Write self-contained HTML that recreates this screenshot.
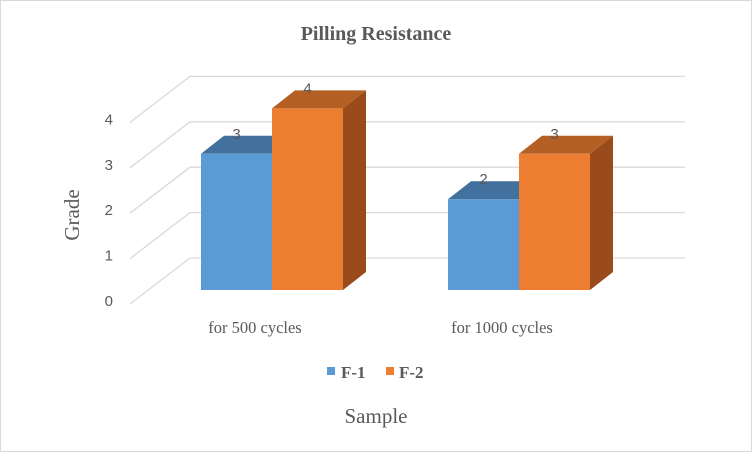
<!DOCTYPE html>
<html><head><meta charset="utf-8"><style>
body{margin:0;background:#fff}
svg{display:block}
text{fill:#595959}
</style></head><body>
<svg id="chart" width="752" height="452" viewBox="0 0 752 452" xmlns="http://www.w3.org/2000/svg">
<rect x="0.5" y="0.5" width="751" height="451" fill="#fff" stroke="#d9d9d9"/>
<text x="376" y="40" text-anchor="middle" font-family="Liberation Serif, serif" font-weight="bold" font-size="20">Pilling Resistance</text>
<g id="grid"></g>
<g id="bars"></g>
<g id="labels"></g>
<text transform="translate(79,215) rotate(-90)" text-anchor="middle" font-family="Liberation Serif, serif" font-size="21">Grade</text>
<text x="376" y="423" text-anchor="middle" font-family="Liberation Serif, serif" font-size="21">Sample</text>
<g>
<rect x="327" y="367" width="8" height="8" fill="#5b9bd5"/>
<text x="341" y="378" font-family="Liberation Serif, serif" font-weight="bold" font-size="17">F-1</text>
<rect x="386" y="367" width="8" height="8" fill="#ed7d31"/>
<text x="399" y="378" font-family="Liberation Serif, serif" font-weight="bold" font-size="17">F-2</text>
</g>
</svg>
<script>
const categories = ["for 500 cycles", "for 1000 cycles"];
const seriesNames = ["F-1", "F-2"];
const f1Values = [3, 2];
const f2Values = [4, 3];
const yTicks = [0, 1, 2, 3, 4];

const NS = "http://www.w3.org/2000/svg";
const unit = 45.4;
const frontZeroY = 304, frontX = 130, backDX = 60, backDY = -46, backRight = 685;
const barZeroY = 290, barDX = 23, barDY = -18;
const groupStart = [201, 448], barW = 71;
const colors = [["#5b9bd5", "#41719c", "#3d6d99"], ["#ed7d31", "#b45f23", "#9a4b1c"]];
function yFront(v){ return frontZeroY - v*unit; }
function yBar(v){ return barZeroY - v*unit; }
function mk(tag, attrs, parent){ const e=document.createElementNS(NS,tag); for(const k in attrs) e.setAttribute(k,attrs[k]); parent.appendChild(e); return e; }

const grid = document.getElementById("grid");
yTicks.forEach(t => {
  const y = yFront(t);
  const g = mk("g", {}, grid);
  
  
  mk("polyline", {points: `${frontX},${y} ${frontX+backDX},${y+backDY} ${backRight},${y+backDY}`, fill:"none", stroke:"#d9d9d9", "stroke-width":"1.3"}, g);
  const tx = mk("text", {x: 113, y: y+2, "text-anchor":"end", "font-family":"Liberation Sans, sans-serif", "font-size":"15"}, g);
  
  
  tx.textContent = t;
});

const bars = document.getElementById("bars"), labels = document.getElementById("labels");
const series = [f1Values, f2Values];
categories.forEach((c, i) => {
  series.forEach((vals, s) => {
    const v = vals[i], x = groupStart[i] + s*barW, top = yBar(v), bot = yBar(0);
    const g = mk("g", {}, bars);
    
    
    mk("polygon", {points:`${x+barW},${top} ${x+barW+barDX},${top+barDY} ${x+barW+barDX},${bot+barDY} ${x+barW},${bot}`, fill:colors[s][2]}, g);
    mk("polygon", {points:`${x},${top} ${x+barDX},${top+barDY} ${x+barW+barDX},${top+barDY} ${x+barW},${top}`, fill:colors[s][1]}, g);
    mk("rect", {x:x, y:top, width:barW, height:bot-top, fill:colors[s][0]}, g);
    const l = mk("text", {x: x+barW/2, y: top-15, "text-anchor":"middle", "font-family":"Liberation Sans, sans-serif", "font-size":"15"}, labels);
    
    
    l.textContent = v;
  });
  const ct = mk("text", {x: groupStart[i] + barW - 17, y: 333, "text-anchor":"middle", "font-family":"Liberation Serif, serif", "font-size":"16.5"}, labels);
  
  
  ct.textContent = c;
});
</script>
</body></html>
